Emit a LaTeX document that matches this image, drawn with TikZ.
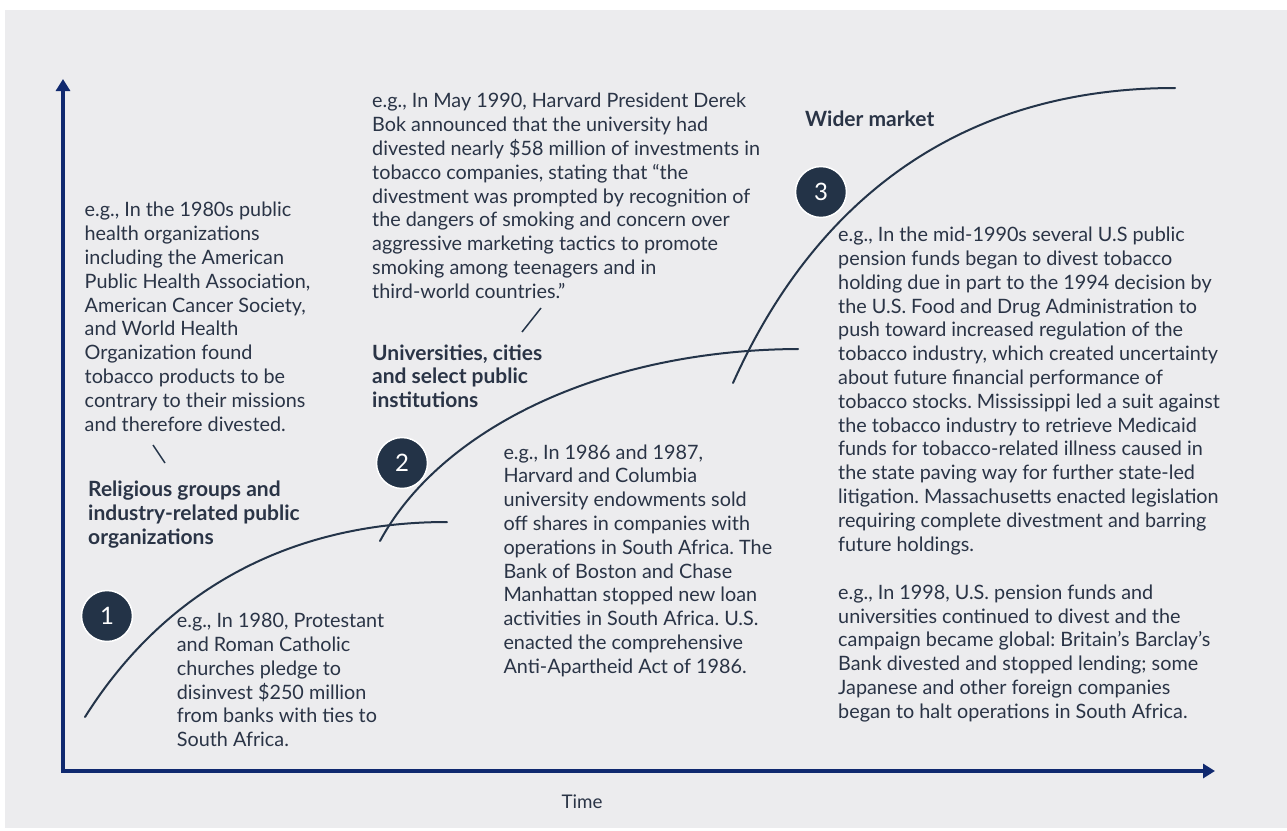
\documentclass[tikz,border=0pt]{standalone}
\usepackage{fontspec}
\setmainfont{Lato}
\frenchspacing
\usetikzlibrary{arrows.meta}
\definecolor{bgc}{HTML}{ECECEE}
\definecolor{txtc}{HTML}{2A3446}
\definecolor{curvec}{HTML}{243449}
\definecolor{axisc}{HTML}{10296F}
\definecolor{circc}{HTML}{233347}
\tikzset{
  body/.style={inner sep=0pt, anchor=base west, align=left, text=txtc,
    font=\fontsize{19.8}{23.8}\selectfont},
  label/.style={body, font=\fontsize{21}{23.8}\selectfont\bfseries},
  numcirc/.style={circle, fill=circc, draw=white, line width=1.5pt,
    minimum size=51pt, inner sep=0pt, text=white, font=\fontsize{24}{24}\selectfont},
  growth/.style={draw=curvec, line width=2pt, line cap=round},
  tick/.style={draw=curvec, line width=1.5pt},
  axis/.style={draw=axisc, line width=4pt},
}
\begin{document}
\begin{tikzpicture}[x=1pt,y=-1pt]
\useasboundingbox (0,0) rectangle (1287,830);
\fill[white] (0,0) rectangle (1287,830);
\fill[bgc] (5,10) rectangle (1287,828);

% axes
\coordinate (origin) at (63,771);
\coordinate (ytop) at (63,79);
\coordinate (xend) at (1215,771);
\draw[axis, {Triangle[length=12pt,width=14pt]}-{Triangle[length=12pt,width=14pt]}] (ytop) -- (origin) -- (xend);
\node[inner sep=0pt, anchor=base, text=txtc, font=\fontsize{18.8}{18.8}\selectfont] (time) at (582,808) {Time};

% growth curves
\coordinate (s1a) at (85,717); \coordinate (s1b) at (447,522);
\coordinate (s2a) at (380,541); \coordinate (s2b) at (798,349);
\coordinate (s3a) at (733,383); \coordinate (s3b) at (1175,88);
\draw[growth] (s1a) .. controls (170,582) and (300,522) .. (s1b);
\draw[growth] (s2a) .. controls (440,430) and (600,350) .. (s2b);
\draw[growth] (s3a) .. controls (815,200) and (960,88) .. (s3b);

% numbered circles
\node[numcirc] (c1) at (107,616) {1};
\node[numcirc] (c2) at (402,463) {2};
\node[numcirc] (c3) at (821,192) {3};

% text blocks (anchored at baseline of last line)
\node[body] (ta) at (84.5,431) {e.g., In the 1980s public\\
health organizations\\
including the American\\
Public Health Association,\\
American Cancer Society,\\
and World Health\\
Organization found\\
tobacco products to be\\
contrary to their missions\\
and therefore divested.};

\coordinate (k1a) at (153,445); \coordinate (k1b) at (165,463);
\draw[tick] (k1a) -- (k1b);

\node[label] (la) at (88,544) {Religious groups and\\industry-related public\\organizations};

\node[body] (tb) at (372,298.3) {e.g., In May 1990, Harvard President Derek\\
Bok announced that the university had\\
divested nearly \$58 million of investments in\\
tobacco companies, stating that “the\\
divestment was prompted by recognition of\\
the dangers of smoking and concern over\\
aggressive marketing tactics to promote\\
smoking among teenagers and in\\
third-world countries.”};

\coordinate (k2a) at (541,308); \coordinate (k2b) at (522,332);
\draw[tick] (k2a) -- (k2b);

\node[label] (lb) at (372,407.7) {Universities, cities\\and select public\\institutions};

\node[label] (lc) at (805,126) {Wider market};

\node[body] (tc) at (503.3,673.3) {e.g., In 1986 and 1987,\\
Harvard and Columbia\\
university endowments sold\\
off shares in companies with\\
operations in South Africa. The\\
Bank of Boston and Chase\\
Manhattan stopped new loan\\
activities in South Africa. U.S.\\
enacted the comprehensive\\
Anti-Apartheid Act of 1986.};

\node[body] (td) at (176.7,746.7) {e.g., In 1980, Protestant\\
and Roman Catholic\\
churches pledge to\\
disinvest \$250 million\\
from banks with ties to\\
South Africa.};

\node[body] (te) at (838,551) {e.g., In the mid-1990s several U.S public\\
pension funds began to divest tobacco\\
holding due in part to the 1994 decision by\\
the U.S. Food and Drug Administration to\\
push toward increased regulation of the\\
tobacco industry, which created uncertainty\\
about future financial performance of\\
tobacco stocks. Mississippi led a suit against\\
the tobacco industry to retrieve Medicaid\\
funds for tobacco-related illness caused in\\
the state paving way for further state-led\\
litigation. Massachusetts enacted legislation\\
requiring complete divestment and barring\\
future holdings.};

\node[body] (tf) at (838,718.3) {e.g., In 1998, U.S. pension funds and\\
universities continued to divest and the\\
campaign became global: Britain’s Barclay’s\\
Bank divested and stopped lending; some\\
Japanese and other foreign companies\\
began to halt operations in South Africa.};
\end{tikzpicture}
\end{document}
